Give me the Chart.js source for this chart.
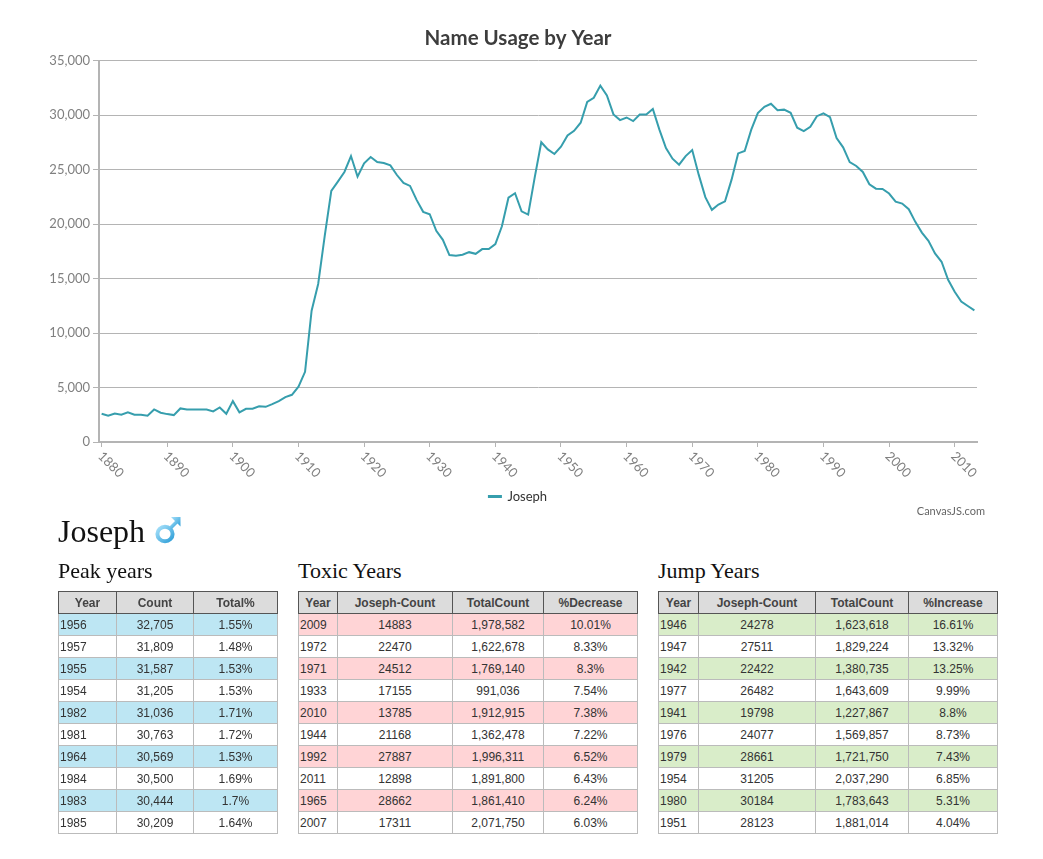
<!DOCTYPE html>
<html><head><meta charset="utf-8">
<script src="https://cdn.jsdelivr.net/npm/chart.js"></script>
<style>
html,body{margin:0;padding:0;background:#fff;}
body{width:1043px;height:859px;position:relative;overflow:hidden;}
#chartBox{position:absolute;left:0;top:0;width:1043px;height:520px;}
.h1{position:absolute;left:58px;top:515px;font:32px/32px "Liberation Serif",serif;color:#111;white-space:nowrap;}
.h2{position:absolute;top:560px;font:22px/22px "Liberation Serif",serif;color:#111;white-space:nowrap;}
#icon{position:absolute;left:153px;top:514px;}
table{position:absolute;top:591px;border-collapse:collapse;table-layout:fixed;font:12px/14px "Liberation Sans",Arial,sans-serif;color:#333;}
tr{height:22px;}
th{background:#dcdcdc;border:1px solid #555;font-weight:bold;color:#444;padding:0;text-align:center;}
td{border:1px solid #bbb;padding:0;text-align:center;}
td.y{text-align:left;padding-left:1px;}
</style>
</head><body>
<div id="chartBox"><canvas id="c" width="1043" height="520"></canvas></div>
<div class="h1">Joseph</div>
<svg id="icon" width="30" height="32" viewBox="0 0 30 32">
  <defs>
    <linearGradient id="g" x1="0" y1="0" x2="1" y2="1">
      <stop offset="0" stop-color="#a6e0fa"/>
      <stop offset="1" stop-color="#2f9fd8"/>
    </linearGradient>
  </defs>
  <ellipse cx="12" cy="20" rx="7.6" ry="7.2" fill="none" stroke="url(#g)" stroke-width="4"/>
  <line x1="17" y1="14.5" x2="24" y2="7.5" stroke="url(#g)" stroke-width="3.6"/>
  <polygon points="18,3 27.5,3 27.5,12.5" fill="url(#g)"/>
</svg>
<div class="h2" style="left:58px">Peak years</div>
<div class="h2" style="left:298px">Toxic Years</div>
<div class="h2" style="left:658px">Jump Years</div>
<div id="tables"></div>
<script>
const years = [1880,1881,1882,1883,1884,1885,1886,1887,1888,1889,1890,1891,1892,1893,1894,1895,1896,1897,1898,1899,
1900,1901,1902,1903,1904,1905,1906,1907,1908,1909,1910,1911,1912,1913,1914,1915,1916,1917,1918,1919,
1920,1921,1922,1923,1924,1925,1926,1927,1928,1929,1930,1931,1932,1933,1934,1935,1936,1937,1938,1939,
1940,1941,1942,1943,1944,1945,1946,1947,1948,1949,1950,1951,1952,1953,1954,1955,1956,1957,1958,1959,
1960,1961,1962,1963,1964,1965,1966,1967,1968,1969,1970,1971,1972,1973,1974,1975,1976,1977,1978,1979,
1980,1981,1982,1983,1984,1985,1986,1987,1988,1989,1990,1991,1992,1993,1994,1995,1996,1997,1998,1999,
2000,2001,2002,2003,2004,2005,2006,2007,2008,2009,2010,2011,2012,2013];
const counts = [2590,2410,2620,2500,2720,2500,2500,2410,2990,2690,2560,2470,3080,2990,2990,2990,2990,2810,3170,2590,
3750,2720,3050,3050,3270,3230,3480,3750,4120,4330,5070,6440,12050,14500,18920,23040,23890,24780,26240,24350,
25570,26150,25690,25600,25390,24500,23770,23500,22220,21120,20900,19380,18550,17155,17090,17180,17420,17270,17700,17700,
18160,19798,22422,22830,21168,20870,24278,27511,26850,26430,27100,28123,28560,29300,31205,31587,32705,31809,30060,29540,
29780,29450,30060,30060,30569,28662,26980,26000,25450,26240,26790,24512,22470,21300,21790,22090,24077,26482,26700,28661,
30184,30763,31036,30444,30500,30209,28840,28530,28930,29900,30150,29810,27887,27040,25690,25330,24780,23650,23250,23220,
22800,22060,21880,21360,20200,19220,18460,17311,16540,14883,13785,12898,12480,12080];
const seriesName = 'Joseph';
const chartTitle = 'Name Usage by Year';
const xTickStep = 10;

const peakYears = [1956,1957,1955,1954,1982,1981,1964,1984,1983,1985];
const peakCounts = [32705,31809,31587,31205,31036,30763,30569,30500,30444,30209];
const peakPct = ['1.55%','1.48%','1.53%','1.53%','1.71%','1.72%','1.53%','1.69%','1.7%','1.64%'];
const toxicYears = [2009,1972,1971,1933,2010,1944,1992,2011,1965,2007];
const toxicCounts = [14883,22470,24512,17155,13785,21168,27887,12898,28662,17311];
const toxicTotals = [1978582,1622678,1769140,991036,1912915,1362478,1996311,1891800,1861410,2071750];
const toxicPct = ['10.01%','8.33%','8.3%','7.54%','7.38%','7.22%','6.52%','6.43%','6.24%','6.03%'];
const jumpYears = [1946,1947,1942,1977,1941,1976,1979,1954,1980,1951];
const jumpCounts = [24278,27511,22422,26482,19798,24077,28661,31205,30184,28123];
const jumpTotals = [1623618,1829224,1380735,1643609,1227867,1569857,1721750,2037290,1783643,1881014];
const jumpPct = ['16.61%','13.32%','13.25%','9.99%','8.8%','8.73%','7.43%','6.85%','5.31%','4.04%'];

const fmt = n => n.toLocaleString('en-US');

function buildTable(left, widths, headers, rows, color) {
  const t = document.createElement('table');
  t.style.left = left + 'px';
  t.style.width = widths.reduce((a,b)=>a+b,0) + 'px';
  const cg = document.createElement('colgroup');
  widths.forEach(w => { const c = document.createElement('col'); c.style.width = w + 'px'; cg.appendChild(c); });
  t.appendChild(cg);
  const hr = document.createElement('tr');
  headers.forEach(h => { const th = document.createElement('th'); th.textContent = h; hr.appendChild(th); });
  t.appendChild(hr);
  rows.forEach((r, i) => {
    const tr = document.createElement('tr');
    if (i % 2 === 0) tr.style.background = color;
    r.forEach((v, j) => { const td = document.createElement('td'); td.textContent = v; if (j === 0) td.className = 'y'; tr.appendChild(td); });
    t.appendChild(tr);
  });
  document.getElementById('tables').appendChild(t);
}
buildTable(58, [58,77,84], ['Year','Count','Total%'],
  peakYears.map((y,i)=>[y, fmt(peakCounts[i]), peakPct[i]]), '#bde6f3');
buildTable(298, [39,115,91,94], ['Year','Joseph-Count','TotalCount','%Decrease'],
  toxicYears.map((y,i)=>[y, toxicCounts[i], fmt(toxicTotals[i]), toxicPct[i]]), '#ffd4d6');
buildTable(658, [40,117,93,89], ['Year','Joseph-Count','TotalCount','%Increase'],
  jumpYears.map((y,i)=>[y, jumpCounts[i], fmt(jumpTotals[i]), jumpPct[i]]), '#d9edc9');

const xTickValues = years.filter(y => y % xTickStep === 0);

const extraText = {
  id: 'extraText',
  afterDraw(chart) {
    const ctx = chart.ctx, xs = chart.scales.x;
    ctx.save();
    ctx.font = '13px Lato';
    ctx.fillStyle = '#808080';
    ctx.textAlign = 'left';
    ctx.textBaseline = 'middle';
    xs.ticks.forEach(t => {
      const px = xs.getPixelForValue(t.value);
      ctx.save();
      ctx.translate(px - 1.5, 454);
      ctx.rotate(Math.PI / 4);
      ctx.fillText(String(t.value), 0, 0);
      ctx.restore();
    });
    ctx.font = '11px Lato';
    ctx.fillStyle = '#666';
    ctx.textAlign = 'right';
    ctx.fillText('CanvasJS.com', 985, 511);
    ctx.restore();
  }
};

new Chart(document.getElementById('c'), {
  type: 'line',
  data: {
    datasets: [{
      label: seriesName,
      data: years.map((yr, i) => ({x: yr, y: counts[i]})),
      borderColor: '#369EAD', backgroundColor: '#369EAD',
      borderWidth: 2, pointRadius: 0, pointHoverRadius: 0, tension: 0, fill: false,
      yAxisID: 'y'
    }]
  },
  options: {
    responsive: false, animation: false,
    layout: {padding: {left: 0, right: 7, top: 0, bottom: 7}},
    plugins: {
      title: {display: true, text: chartTitle, color: '#3d3d3d',
        font: {family: 'Lato', size: 20.5, weight: 'bold', lineHeight: 1.2},
        padding: {top: 26, bottom: 10}},
      legend: {position: 'bottom',
        labels: {color: '#333', font: {family: 'Lato', size: 13}, boxWidth: 12, boxHeight: 1, padding: 10}},
      tooltip: {enabled: false}
    },
    scales: {
      x: {type: 'linear', min: 1879.6, max: 2013.4,
        ticks: {display: false, stepSize: xTickStep},
        grid: {drawOnChartArea: false, drawTicks: true, tickLength: 5, color: '#b4b4b4'},
        border: {color: '#b4b4b4', width: 2},
        afterBuildTicks: s => { s.ticks = xTickValues.map(v => ({value: v})); },
        afterFit: s => { s.height = 38; }},
      y: {position: 'left', min: 0, max: 35000,
        ticks: {stepSize: 5000, color: '#808080', font: {family: 'Lato', size: 13}, padding: 3},
        grid: {color: '#b4b4b4', tickLength: 6},
        border: {color: '#b4b4b4', width: 2},
        afterFit: s => { s.width = 99; }},
      yPad: {position: 'right', min: 0, max: 1,
        ticks: {display: false}, grid: {display: false}, border: {display: false},
        afterFit: s => { s.width = 59; }}
    }
  },
  plugins: [extraText]
});
</script>
</body></html>
